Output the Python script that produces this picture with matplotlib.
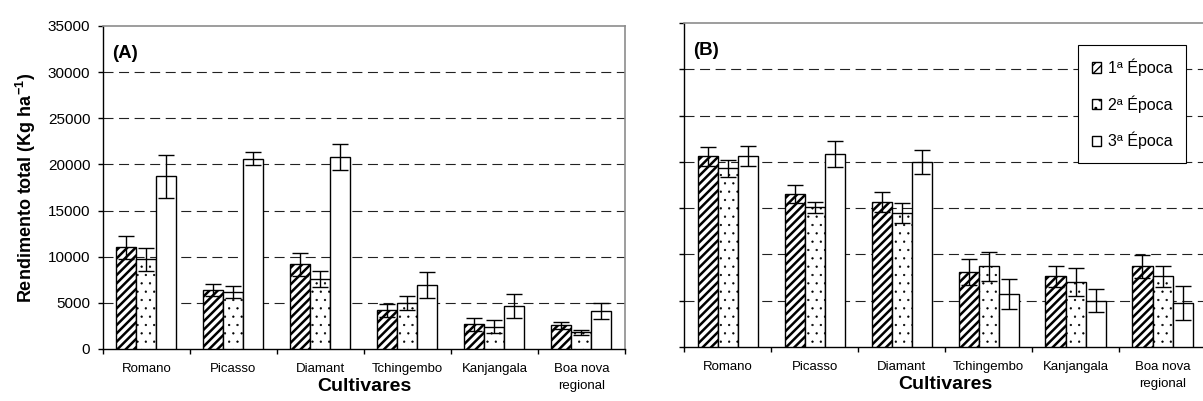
import matplotlib
matplotlib.use("Agg")
import matplotlib.pyplot as plt
import numpy as np

plt.rcParams["font.family"] = ["Liberation Sans", "DejaVu Sans"]
plt.rcParams["mathtext.fontset"] = "custom"
plt.rcParams["mathtext.rm"] = "Liberation Sans"
plt.rcParams["mathtext.bf"] = "Liberation Sans:bold"

cultivares = ["Romano", "Picasso", "Diamant", "Tchingembo", "Kanjangala",
              "Boa nova\nregional"]
epocas = ["1ª Época", "2ª Época", "3ª Época"]

# (A) rendimento e desvio por época
a_ep1 = [11000, 6400, 9200, 4200, 2700, 2550]
a_ep2 = [9700, 6200, 7600, 5000, 2400, 1800]
a_ep3 = [18700, 20600, 20800, 6900, 4650, 4100]
a_err1 = [1250, 650, 1250, 720, 700, 400]
a_err2 = [1250, 650, 870, 750, 720, 280]
a_err3 = [2350, 700, 1400, 1400, 1270, 850]

# (B)
b_ep1 = [20600, 16500, 15650, 8100, 7650, 8700]
b_ep2 = [19300, 15100, 14500, 8700, 7000, 7650]
b_ep3 = [20600, 20850, 20000, 5700, 5000, 4750]
b_err1 = [1050, 950, 1100, 1400, 1150, 1270]
b_err2 = [950, 600, 1100, 1600, 1500, 1150]
b_err3 = [1100, 1400, 1300, 1650, 1250, 1800]

hatches = ["////", "..", ""]
hatch_lw = [1.8, 0.4, 1.0]
GREY = "#8c8c8c"


def draw_panel(ax, series, errors, letter, show_ylabels):
    x = np.arange(len(cultivares))
    w = 0.23
    for i, (vals, errs) in enumerate(zip(series, errors)):
        with plt.rc_context({"hatch.linewidth": hatch_lw[i]}):
            bars = ax.bar(x + (i - 1) * w, vals, w, yerr=errs, color="white",
                          edgecolor="black", linewidth=1.0, hatch=hatches[i],
                          label=epocas[i], zorder=3,
                          error_kw=dict(ecolor="black", elinewidth=1.0,
                                        capsize=5.5, capthick=1.0, zorder=4))
        for b in bars:
            if hasattr(b, "set_hatch_linewidth"):
                b.set_hatch_linewidth(hatch_lw[i])

    ax.set_xlim(-0.5, len(cultivares) - 0.5)
    ax.set_ylim(0, 35000)
    ax.set_yticks(np.arange(0, 35001, 5000))
    ax.set_xticks(x)
    ax.set_xticklabels(cultivares, fontsize=9.5, linespacing=1.6)
    ax.set_xticks(np.arange(-0.5, len(cultivares), 1), minor=True)
    ax.tick_params(axis="x", which="major", length=0, pad=10)
    ax.tick_params(axis="x", which="minor", length=3.5, width=1.0)
    ax.tick_params(axis="y", length=3.6, width=1.0, pad=5.5, labelsize=11,
                   labelleft=show_ylabels)

    # dashed horizontal grid, only between bottom and top
    ax.set_axisbelow(True)
    ax.yaxis.grid(True, color="#222222", linewidth=0.8, linestyle=(0, (9, 5)))
    grid = ax.get_ygridlines()
    grid[0].set_visible(False)
    grid[-1].set_visible(False)

    for side in ("left", "bottom"):
        ax.spines[side].set_color("black")
        ax.spines[side].set_linewidth(1.0)
    for side in ("top", "right"):
        ax.spines[side].set_color(GREY)
        ax.spines[side].set_linewidth(1.2)

    ax.set_xlabel("Cultivares", fontsize=14, fontweight="bold")
    ax.xaxis.set_label_coords(0.5, -0.09)
    ax.text(0.018, 0.915, letter, transform=ax.transAxes, fontsize=13.5,
            fontweight="bold", ha="left", va="center")


fig = plt.figure(figsize=(12.03, 4.01), dpi=100)
ax_a = fig.add_axes([0.0856, 0.1297, 0.4339, 0.8055])
ax_b = fig.add_axes([0.5686, 0.1347, 0.4339, 0.808])

draw_panel(ax_a, [a_ep1, a_ep2, a_ep3], [a_err1, a_err2, a_err3], "(A)", True)
draw_panel(ax_b, [b_ep1, b_ep2, b_ep3], [b_err1, b_err2, b_err3], "(B)", False)

ax_a.set_ylabel(r"Rendimento total (Kg ha$^{\mathbf{-1}}$)", fontsize=13,
                fontweight="bold")
ax_a.yaxis.set_label_coords(-0.125, 0.5)

leg = ax_b.legend(loc="upper left", bbox_to_anchor=(0.755, 0.932),
                  borderaxespad=0, fancybox=False, edgecolor="black",
                  framealpha=1, fontsize=11.5, handlelength=0.6,
                  handleheight=0.6, handletextpad=0.4, labelspacing=1.2,
                  borderpad=0.85)
leg.get_frame().set_linewidth(0.8)

fig.savefig("out.png", dpi=100)
